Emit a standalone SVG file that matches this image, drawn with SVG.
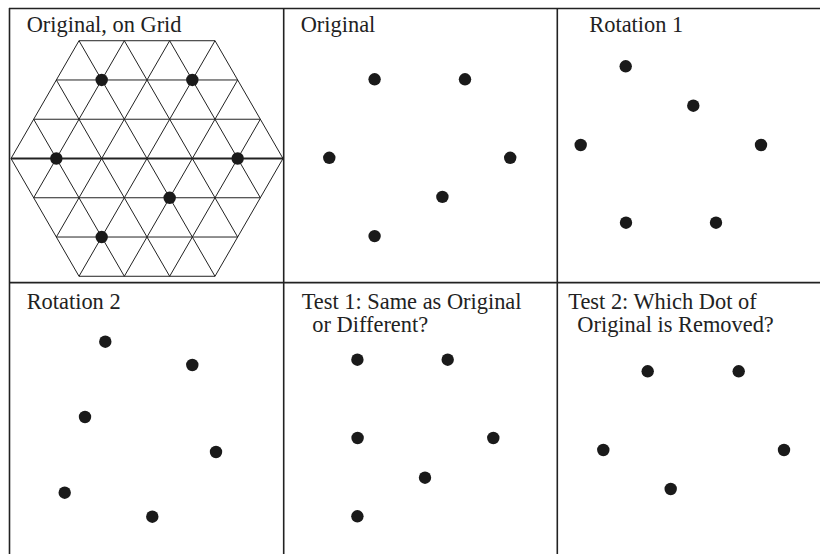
<svg xmlns="http://www.w3.org/2000/svg" width="820" height="554" viewBox="0 0 820 554">
<style>
.frame{stroke:#222;stroke-width:1.6;fill:none}
.grid{stroke:#222;stroke-width:1;fill:none}
.axis{stroke:#222;stroke-width:1.8}
.dot{fill:#1a1a1a}
.lbl{font-family:"Liberation Serif","Times New Roman",serif;font-size:22.4px;fill:#222}
</style>
<rect width="820" height="554" fill="#fff"/>
<g id="frame">
<line class="frame" x1="9" y1="8.5" x2="820" y2="8.5"/>
<line class="frame" x1="9.5" y1="8" x2="9.5" y2="554"/>
<line class="frame" x1="283.7" y1="8" x2="283.7" y2="554"/>
<line class="frame" x1="557.3" y1="8" x2="557.3" y2="554"/>
<line class="frame" x1="9" y1="282.6" x2="820" y2="282.6"/>
</g>
<g id="panel-grid">
<text class="lbl" x="26.7" y="32">Original, on Grid</text>
<g transform="translate(147,158.5)">
<g class="grid">
<line x1="-68" y1="-117.78" x2="68" y2="-117.78"/>
<line x1="-90.67" y1="-78.52" x2="90.67" y2="-78.52"/>
<line x1="-113.33" y1="-39.26" x2="113.33" y2="-39.26"/>
<line x1="-113.33" y1="39.26" x2="113.33" y2="39.26"/>
<line x1="-90.67" y1="78.52" x2="90.67" y2="78.52"/>
<line x1="-68" y1="117.78" x2="68" y2="117.78"/>
<line x1="-136" y1="0" x2="-68" y2="-117.78"/>
<line x1="-113.33" y1="39.26" x2="-22.67" y2="-117.78"/>
<line x1="-90.67" y1="78.52" x2="22.67" y2="-117.78"/>
<line x1="-68" y1="117.78" x2="68" y2="-117.78"/>
<line x1="-22.67" y1="117.78" x2="90.67" y2="-78.52"/>
<line x1="22.67" y1="117.78" x2="113.33" y2="-39.26"/>
<line x1="68" y1="117.78" x2="136" y2="0"/>
<line x1="136" y1="0" x2="68" y2="-117.78"/>
<line x1="113.33" y1="39.26" x2="22.67" y2="-117.78"/>
<line x1="90.67" y1="78.52" x2="-22.67" y2="-117.78"/>
<line x1="68" y1="117.78" x2="-68" y2="-117.78"/>
<line x1="22.67" y1="117.78" x2="-90.67" y2="-78.52"/>
<line x1="-22.67" y1="117.78" x2="-113.33" y2="-39.26"/>
<line x1="-68" y1="117.78" x2="-136" y2="0"/>
</g>
<line class="axis" x1="-136" y1="0" x2="136" y2="0"/>
<g class="dot">
<circle cx="-45.33" cy="-78.52" r="6.2"/>
<circle cx="45.33" cy="-78.52" r="6.2"/>
<circle cx="-90.67" cy="0" r="6.2"/>
<circle cx="90.67" cy="0" r="6.2"/>
<circle cx="22.67" cy="39.26" r="6.2"/>
<circle cx="-45.33" cy="78.52" r="6.2"/>
</g>
</g>
</g>
<g id="panel-original">
<text class="lbl" x="300.7" y="32">Original</text>
<g class="dot">
<circle cx="374.6" cy="79.3" r="6.2"/>
<circle cx="465" cy="79.3" r="6.2"/>
<circle cx="329.3" cy="157.8" r="6.2"/>
<circle cx="510.2" cy="157.8" r="6.2"/>
<circle cx="442.4" cy="196.9" r="6.2"/>
<circle cx="374.6" cy="236.1" r="6.2"/>
</g>
</g>
<g id="panel-rotation1">
<text class="lbl" x="589.3" y="32">Rotation 1</text>
<g class="dot">
<circle cx="625.7" cy="66.3" r="6.2"/>
<circle cx="693.3" cy="105.7" r="6.2"/>
<circle cx="580.7" cy="145" r="6.2"/>
<circle cx="761" cy="145" r="6.2"/>
<circle cx="626" cy="222.7" r="6.2"/>
<circle cx="716" cy="222.7" r="6.2"/>
</g>
</g>
<g id="panel-rotation2">
<text class="lbl" x="26.7" y="309.3">Rotation 2</text>
<g class="dot">
<circle cx="105.3" cy="341.7" r="6.2"/>
<circle cx="192.3" cy="365" r="6.2"/>
<circle cx="85" cy="417" r="6.2"/>
<circle cx="216" cy="452" r="6.2"/>
<circle cx="64.7" cy="492.7" r="6.2"/>
<circle cx="152.3" cy="516.7" r="6.2"/>
</g>
</g>
<g id="panel-test1">
<text class="lbl" x="301.7" y="309.3">Test 1: Same as Original</text>
<text class="lbl" x="312.3" y="332">or Different?</text>
<g class="dot">
<circle cx="357.4" cy="359.7" r="6.2"/>
<circle cx="447.7" cy="359.7" r="6.2"/>
<circle cx="357.6" cy="438" r="6.2"/>
<circle cx="493.3" cy="438" r="6.2"/>
<circle cx="425" cy="477.7" r="6.2"/>
<circle cx="357.4" cy="516.3" r="6.2"/>
</g>
</g>
<g id="panel-test2">
<text class="lbl" x="568.3" y="309.3">Test 2: Which Dot of</text>
<text class="lbl" x="577.3" y="332">Original is Removed?</text>
<g class="dot">
<circle cx="647.7" cy="371.3" r="6.2"/>
<circle cx="738.7" cy="371.3" r="6.2"/>
<circle cx="603.3" cy="450" r="6.2"/>
<circle cx="784" cy="450" r="6.2"/>
<circle cx="670.7" cy="489" r="6.2"/>
</g>
</g>
</svg>
